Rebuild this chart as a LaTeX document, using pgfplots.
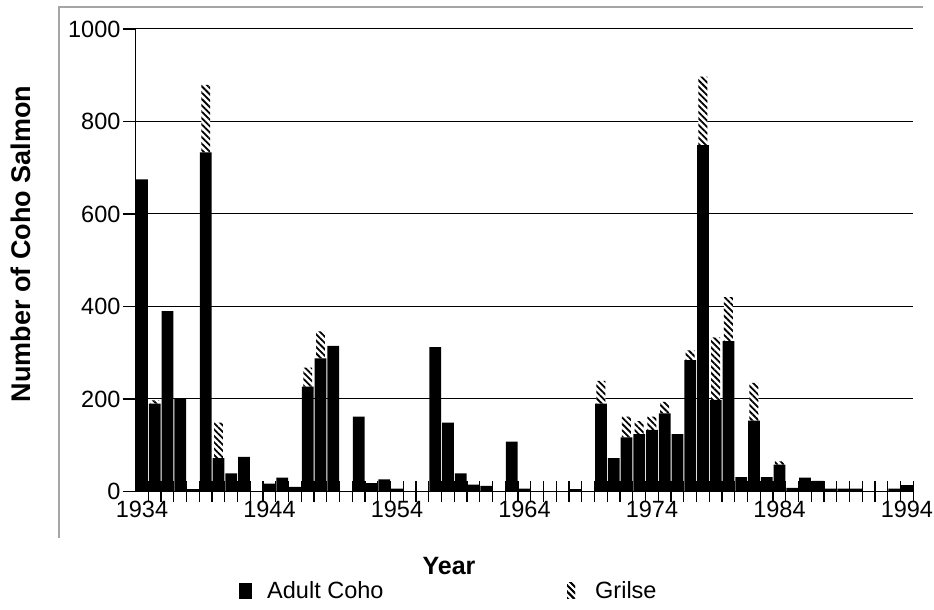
\documentclass[border=0pt]{standalone}
\usepackage{pgfplots}
\pgfplotsset{compat=1.18}
\usepackage{pgfplotstable}
\usepackage{fontspec}
\setmainfont{Liberation Sans}
\usetikzlibrary{patterns.meta}
\definecolor{framegray}{RGB}{165,165,165}
\pgfplotstableread{
year adult grilse
1934 675 0
1935 190 7
1936 390 0
1937 200 0
1938 5 0
1939 733 146
1940 72 77
1941 39 0
1942 75 0
1943 0 0
1944 17 0
1945 30 0
1946 10 0
1947 227 41
1948 288 58
1949 315 0
1950 0 0
1951 162 0
1952 18 0
1953 26 0
1954 6 0
1955 0 0
1956 0 0
1957 312 0
1958 149 0
1959 39 0
1960 15 0
1961 12 0
1962 0 0
1963 108 0
1964 6 0
1965 0 0
1966 0 0
1967 0 0
1968 5 0
1969 0 0
1970 190 49
1971 72 0
1972 117 45
1973 124 28
1974 133 29
1975 169 25
1976 124 0
1977 284 21
1978 749 148
1979 198 135
1980 325 95
1981 31 0
1982 153 82
1983 31 0
1984 58 7
1985 8 0
1986 30 0
1987 23 0
1988 6 0
1989 6 0
1990 6 0
1991 0 0
1992 0 0
1993 6 0
1994 14 0
}\coho
\tikzset{grilsepat/.style={pattern={Lines[angle=-45,distance=4.5pt,line width=1.8pt]}}}
\begin{document}
\begin{tikzpicture}
\path[use as bounding box] (0,0) rectangle (934pt,610pt);
\draw[framegray, line width=1.5pt] (59pt,72pt) -- (59pt,603pt) -- (923pt,603pt);
\begin{axis}[
  at={(135.6pt,118.5pt)}, anchor=south west,
  scale only axis, width=777.7pt, height=462.5pt,
  xmin=1933.5, xmax=1994.5, ymin=0, ymax=1000,
  ybar stacked, bar width=0.92,
  axis x line*=bottom, axis y line*=left,
  axis line style={black, line width=1.2pt},
  xtick={1934,1944,...,1994},
  xticklabels={1934,1944,1954,1964,1974,1984,1994},
  minor xtick={1934.5,1935.5,...,1994.5},
  xtick align=center,
  major x tick style={draw=none},
  minor tick length=20pt, major tick length=13pt,
  ytick={0,200,...,1000},
  yticklabels={0,200,400,600,800,1000},
  ytick align=outside, ytick pos=left,
  ymajorgrids, major grid style={black, line width=1pt},
  tick style={black, line width=1.2pt},
  tick label style={font=\fontsize{23.5}{28}\selectfont},
  xticklabel style={inner sep=0pt, anchor=north, yshift=-3pt},
  yticklabel style={inner sep=0pt, anchor=east, xshift=-2pt},
  xlabel={Year},
  xlabel style={font=\bfseries\fontsize{25}{30}\selectfont, at={(axis description cs:0.403,-0.161)}, anchor=center},
  ylabel={Number of Coho Salmon},
  ylabel style={font=\bfseries\fontsize{27}{32}\selectfont, at={(axis description cs:-0.1474,0.535)}, anchor=center},
  legend columns=2,
  legend style={draw=none, fill=none, inner sep=0pt, at={(axis description cs:0.133,-0.2151)}, anchor=west,
    font=\fontsize{23.5}{28}\selectfont, cells={anchor=west}, nodes={inner sep=0pt},
    /tikz/every even column/.append style={column sep=183.7pt}},
]
\addplot[fill=black, draw=none,
  legend image code/.code={\fill[black] (0pt,-8pt) rectangle (13pt,8pt); \path (28pt,0pt);}]
  table[x=year, y=adult]{\coho};
\addlegendentry{Adult Coho}
\addplot[fill=white, draw=none, bar width=0.7, postaction={grilsepat},
  legend image code/.code={\path[fill=white, grilsepat] (0pt,-8pt) rectangle (8pt,8pt); \path (28pt,0pt);}]
  table[x=year, y=grilse]{\coho};
\addlegendentry{Grilse}
\end{axis}
\end{tikzpicture}
\end{document}
